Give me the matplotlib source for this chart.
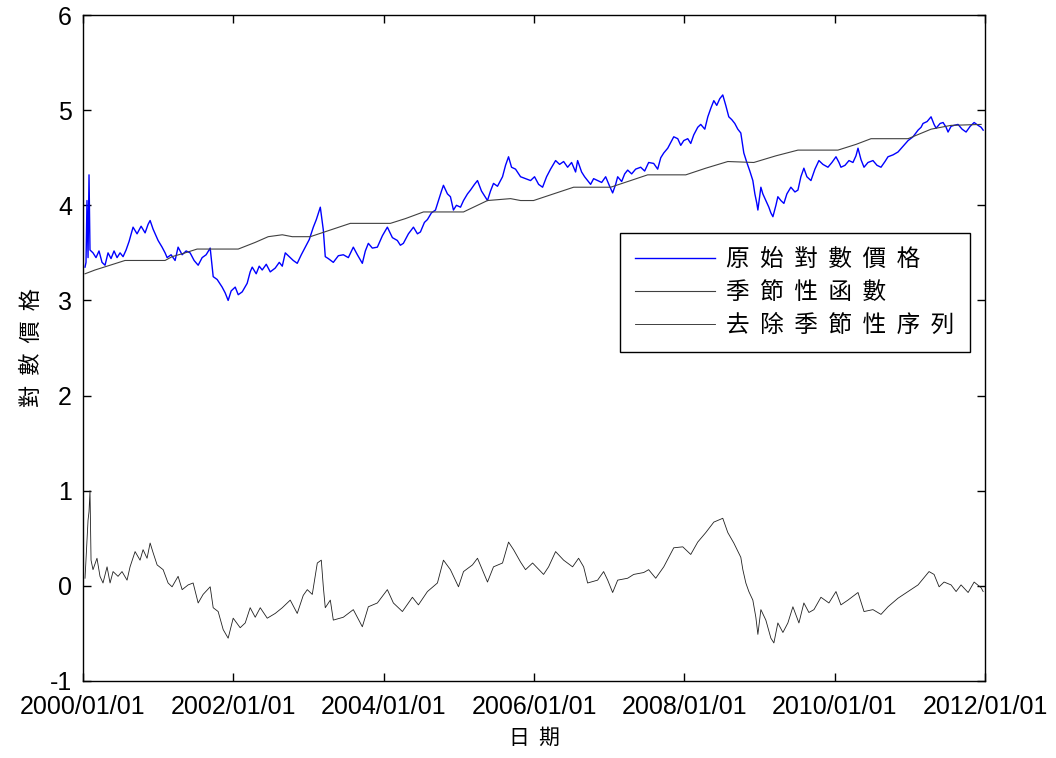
import numpy as np
import pandas as pd
import matplotlib
matplotlib.use('Agg')
import matplotlib.pyplot as plt
import matplotlib.dates as mdates

plt.rcParams['font.family'] = ['Liberation Sans', 'Noto Sans CJK TC', 'DejaVu Sans']
plt.rcParams['axes.unicode_minus'] = False

# years since 2000/01/01
price_t = [0.027, 0.040, 0.053, 0.067, 0.080, 0.093, 0.133, 0.173, 0.213, 0.253, 0.293, 0.333, 0.373,
           0.413, 0.453, 0.493, 0.533, 0.573, 0.613, 0.666, 0.719, 0.773, 0.826, 0.866, 0.893, 0.932,
           0.972, 0.999, 1.052, 1.092, 1.119, 1.172, 1.225, 1.265, 1.319, 1.372, 1.425, 1.478, 1.532,
           1.585, 1.638, 1.692, 1.732, 1.785, 1.851, 1.891, 1.931, 1.971, 2.025, 2.065, 2.118, 2.184,
           2.224, 2.251, 2.304, 2.344, 2.384, 2.438, 2.491, 2.557, 2.611, 2.651, 2.691, 2.744, 2.797,
           2.850, 2.904, 2.957, 3.010, 3.064, 3.104, 3.157, 3.197, 3.223, 3.263, 3.330, 3.397, 3.463,
           3.530, 3.596, 3.650, 3.716, 3.756, 3.796, 3.849, 3.916, 3.983, 4.049, 4.116, 4.182, 4.222,
           4.262, 4.329, 4.396, 4.449, 4.489, 4.542, 4.582, 4.635, 4.689, 4.729, 4.769, 4.795, 4.848,
           4.888, 4.928, 4.968, 5.022, 5.062, 5.115, 5.155, 5.208, 5.248, 5.301, 5.341, 5.381, 5.421,
           5.461, 5.514, 5.581, 5.621, 5.661, 5.701, 5.754, 5.821, 5.887, 5.954, 6.007, 6.061, 6.114,
           6.167, 6.220, 6.287, 6.340, 6.394, 6.447, 6.500, 6.553, 6.580, 6.633, 6.673, 6.713, 6.753,
           6.793, 6.846, 6.900, 6.953, 7.006, 7.046, 7.086, 7.113, 7.166, 7.206, 7.246, 7.299, 7.352,
           7.419, 7.472, 7.525, 7.592, 7.645, 7.686, 7.726, 7.779, 7.819, 7.859, 7.912, 7.952, 7.992,
           8.045, 8.085, 8.125, 8.178, 8.218, 8.272, 8.312, 8.352, 8.392, 8.431, 8.471, 8.511, 8.551,
           8.591, 8.631, 8.671, 8.711, 8.751, 8.791, 8.831, 8.871, 8.911, 8.938, 8.964, 8.978, 9.018,
           9.044, 9.084, 9.124, 9.151, 9.178, 9.218, 9.244, 9.284, 9.324, 9.364, 9.417, 9.471, 9.511,
           9.550, 9.590, 9.630, 9.684, 9.737, 9.790, 9.843, 9.910, 9.963, 10.017, 10.057, 10.083,
           10.137, 10.190, 10.243, 10.283, 10.310, 10.350, 10.390, 10.443, 10.509, 10.563, 10.616,
           10.669, 10.709, 10.776, 10.842, 10.909, 10.976, 11.042, 11.109, 11.149, 11.175, 11.229,
           11.282, 11.322, 11.349, 11.402, 11.442, 11.482, 11.508, 11.548, 11.588, 11.641, 11.695,
           11.748, 11.802, 11.855, 11.908, 11.948, 11.975]
log_price = [3.35, 3.40, 4.05, 3.45, 4.32, 3.53, 3.50, 3.45, 3.52, 3.40, 3.37, 3.50, 3.44,
             3.52, 3.45, 3.50, 3.46, 3.53, 3.62, 3.77, 3.70, 3.78, 3.71, 3.80, 3.84, 3.75,
             3.68, 3.63, 3.56, 3.50, 3.45, 3.48, 3.42, 3.56, 3.48, 3.52, 3.50, 3.42, 3.37,
             3.45, 3.48, 3.55, 3.25, 3.22, 3.14, 3.08, 3.00, 3.10, 3.14, 3.06, 3.09, 3.18,
             3.30, 3.35, 3.28, 3.36, 3.32, 3.38, 3.30, 3.34, 3.40, 3.36, 3.50, 3.46, 3.42,
             3.39, 3.48, 3.56, 3.64, 3.77, 3.85, 3.98, 3.74, 3.46, 3.44, 3.40, 3.47, 3.48,
             3.45, 3.56, 3.48, 3.39, 3.52, 3.60, 3.55, 3.56, 3.68, 3.77, 3.66, 3.63, 3.58,
             3.60, 3.70, 3.77, 3.70, 3.72, 3.82, 3.85, 3.92, 3.95, 4.05, 4.15, 4.21, 4.12,
             4.09, 3.95, 4.00, 3.98, 4.05, 4.12, 4.16, 4.22, 4.26, 4.15, 4.10, 4.05, 4.15,
             4.23, 4.20, 4.30, 4.42, 4.51, 4.40, 4.38, 4.30, 4.28, 4.26, 4.30, 4.22, 4.19,
             4.30, 4.38, 4.47, 4.43, 4.46, 4.40, 4.45, 4.35, 4.47, 4.35, 4.30, 4.26, 4.22,
             4.28, 4.26, 4.24, 4.30, 4.20, 4.13, 4.22, 4.30, 4.25, 4.33, 4.37, 4.33, 4.38,
             4.40, 4.36, 4.45, 4.44, 4.38, 4.50, 4.55, 4.60, 4.66, 4.72, 4.70, 4.63, 4.68,
             4.70, 4.65, 4.74, 4.82, 4.85, 4.80, 4.93, 5.02, 5.10, 5.05, 5.12, 5.16, 5.05,
             4.93, 4.90, 4.86, 4.80, 4.76, 4.55, 4.45, 4.36, 4.26, 4.12, 4.02, 3.95, 4.19,
             4.12, 4.05, 3.98, 3.92, 3.88, 4.00, 4.09, 4.05, 4.02, 4.12, 4.19, 4.14, 4.16,
             4.30, 4.39, 4.30, 4.26, 4.38, 4.47, 4.43, 4.40, 4.45, 4.51, 4.45, 4.40,
             4.42, 4.47, 4.45, 4.52, 4.60, 4.48, 4.40, 4.45, 4.47, 4.42, 4.40,
             4.46, 4.51, 4.53, 4.56, 4.62, 4.68, 4.72, 4.79, 4.82, 4.86, 4.88,
             4.93, 4.85, 4.81, 4.86, 4.87, 4.82, 4.77, 4.83, 4.84, 4.85, 4.80,
             4.77, 4.83, 4.87, 4.84, 4.82, 4.79]

season_t = [0.027, 0.160, 0.360, 0.559, 1.092, 1.185, 1.359, 1.518, 2.065, 2.291, 2.464, 2.651,
            2.784, 3.024, 3.290, 3.556, 4.089, 4.289, 4.529, 5.062, 5.381, 5.688, 5.821, 5.994,
            6.260, 6.527, 7.020, 7.286, 7.512, 8.019, 8.285, 8.578, 8.924, 9.218, 9.511, 10.043,
            10.283, 10.483, 10.976, 11.282, 11.548, 11.948]
season = [3.28, 3.32, 3.37, 3.42, 3.42, 3.46, 3.50, 3.54, 3.54, 3.61, 3.67, 3.69,
          3.67, 3.67, 3.74, 3.81, 3.81, 3.86, 3.93, 3.93, 4.05, 4.07, 4.05, 4.05,
          4.12, 4.19, 4.19, 4.26, 4.32, 4.32, 4.39, 4.46, 4.45, 4.52, 4.58, 4.58,
          4.64, 4.70, 4.70, 4.80, 4.84, 4.85]

resid_t = [0.027, 0.067, 0.080, 0.093, 0.107, 0.133, 0.186, 0.226, 0.266, 0.320, 0.360, 0.400,
           0.466, 0.519, 0.586, 0.626, 0.693, 0.759, 0.799, 0.852, 0.893, 0.932, 0.986, 1.066,
           1.132, 1.185, 1.265, 1.319, 1.399, 1.465, 1.532, 1.598, 1.692, 1.732, 1.798, 1.865,
           1.931, 1.998, 2.091, 2.158, 2.224, 2.291, 2.358, 2.451, 2.557, 2.651, 2.757, 2.850,
           2.930, 2.984, 3.050, 3.117, 3.170, 3.197, 3.223, 3.290, 3.330, 3.463, 3.596, 3.716,
           3.796, 3.916, 4.049, 4.129, 4.249, 4.382, 4.462, 4.582, 4.715, 4.795, 4.888, 4.995,
           5.062, 5.181, 5.248, 5.381, 5.461, 5.581, 5.661, 5.728, 5.821, 5.887, 5.981, 6.127,
           6.194, 6.287, 6.394, 6.513, 6.593, 6.660, 6.713, 6.846, 6.926, 6.980, 7.046, 7.113,
           7.246, 7.326, 7.459, 7.525, 7.619, 7.726, 7.859, 7.979, 8.085, 8.178, 8.285, 8.392,
           8.511, 8.578, 8.658, 8.751, 8.778, 8.818, 8.858, 8.911, 8.951, 8.978, 9.018, 9.084,
           9.151, 9.191, 9.244, 9.311, 9.377, 9.444, 9.524, 9.590, 9.657, 9.724, 9.817, 9.923,
           10.017, 10.083, 10.176, 10.310, 10.390, 10.509, 10.616, 10.709, 10.842, 10.976,
           11.109, 11.255, 11.322, 11.389, 11.455, 11.548, 11.615, 11.681, 11.775, 11.855,
           11.948, 11.975]
resid = [0.08, 0.69, 0.78, 1.00, 0.27, 0.17, 0.29, 0.10, 0.03, 0.20, 0.03, 0.15,
         0.10, 0.15, 0.06, 0.20, 0.36, 0.27, 0.38, 0.29, 0.45, 0.35, 0.22, 0.17,
         0.03, -0.01, 0.10, -0.04, 0.01, 0.03, -0.18, -0.09, -0.01, -0.23, -0.27, -0.46,
         -0.55, -0.34, -0.44, -0.39, -0.23, -0.33, -0.23, -0.34, -0.29, -0.23, -0.15, -0.29,
         -0.10, -0.04, -0.09, 0.24, 0.27, -0.01, -0.23, -0.15, -0.36, -0.33, -0.25, -0.43,
         -0.22, -0.18, -0.04, -0.18, -0.27, -0.12, -0.20, -0.06, 0.03, 0.27, 0.17, -0.01,
         0.15, 0.22, 0.29, 0.04, 0.20, 0.24, 0.46, 0.38, 0.25, 0.17, 0.24, 0.12,
         0.20, 0.36, 0.27, 0.20, 0.29, 0.20, 0.03, 0.06, 0.15, 0.06, -0.07, 0.06,
         0.08, 0.12, 0.14, 0.17, 0.08, 0.20, 0.40, 0.41, 0.33, 0.46, 0.56, 0.67,
         0.71, 0.56, 0.45, 0.30, 0.17, 0.03, -0.06, -0.15, -0.33, -0.51, -0.25, -0.36,
         -0.55, -0.60, -0.39, -0.49, -0.39, -0.22, -0.39, -0.18, -0.28, -0.25, -0.12, -0.18,
         -0.06, -0.20, -0.15, -0.07, -0.27, -0.25, -0.30, -0.22, -0.13, -0.06,
         0.01, 0.15, 0.12, -0.01, 0.04, 0.01, -0.06, 0.01, -0.07, 0.04,
         -0.02, -0.06]

labels = ['原  始  對  數  價  格', '季  節  性  函  數', '去  除  季  節  性  序  列']


def to_dates(t):
    return pd.Timestamp('2000-01-01') + pd.to_timedelta(np.array(t) * 365.25, unit='D')


fig = plt.figure(figsize=(10.56, 7.58), dpi=100)
ax = fig.add_axes([0.0786, 0.1016, 0.8542, 0.8786])

ax.plot(to_dates(price_t), log_price, color='#0000ff', linewidth=1.0, label=labels[0])
ax.plot(to_dates(season_t), season, color='#404040', linewidth=0.8, label=labels[1])
ax.plot(to_dates(resid_t), resid, color='#202020', linewidth=0.6, label=labels[2])

ax.set_xlim(pd.Timestamp('2000-01-01'), pd.Timestamp('2012-01-01'))
ax.set_ylim(-1, 6)
ax.set_yticks(range(-1, 7))
ax.xaxis.set_major_locator(mdates.YearLocator(2))
ax.xaxis.set_major_formatter(mdates.DateFormatter('%Y/%m/%d'))
ax.tick_params(direction='in', top=True, right=True, length=6, width=1,
               labelsize=18, pad=8)
ax.tick_params(axis='x', pad=10)
for s in ax.spines.values():
    s.set_linewidth(1.0)

ax.set_xlabel('日  期', family=['Noto Sans CJK TC'], fontsize=15, labelpad=6)
ax.set_ylabel('對  數  價  格', family=['Noto Sans CJK TC'], fontsize=16, labelpad=5)

leg = ax.legend(loc='upper left', bbox_to_anchor=(0.595, 0.673), fancybox=False,
                edgecolor='black', framealpha=1, borderaxespad=0,
                prop={'family': 'Noto Sans CJK TC', 'size': 17},
                handlelength=3.4, handletextpad=0.45, labelspacing=0.42, borderpad=0.65)
leg.get_frame().set_linewidth(1.0)

fig.savefig('out.png', dpi=100)
